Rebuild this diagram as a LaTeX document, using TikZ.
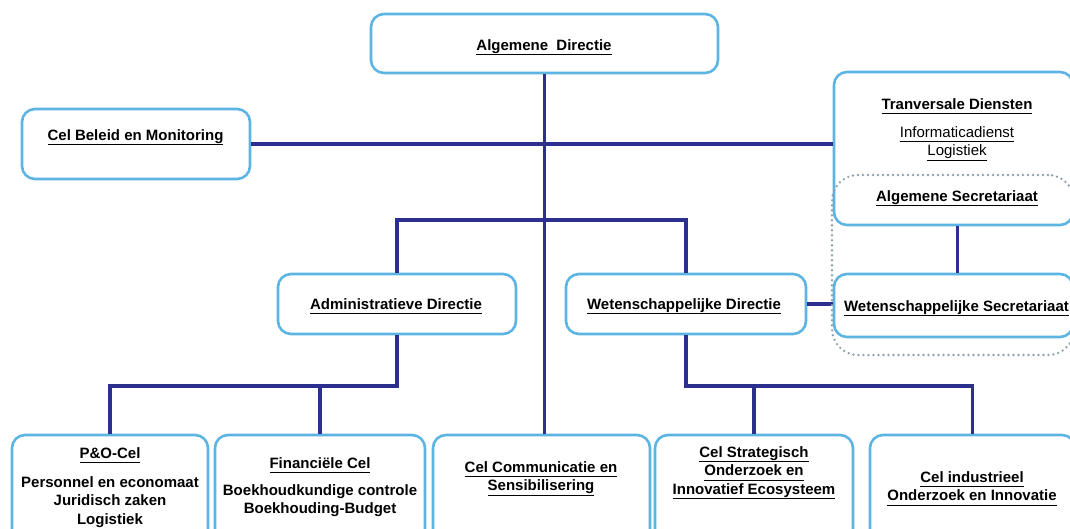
\documentclass[tikz,border=0pt]{standalone}
\usepackage{fontspec}
\setmainfont{Liberation Sans}
\definecolor{connc}{HTML}{2C2F8E}
\definecolor{boxc}{HTML}{5CB4E3}
\definecolor{dotc}{HTML}{8FA2AB}
\newcommand{\ulx}[1]{\underline{#1\vphantom{gjp}}}
\begin{document}
\begin{tikzpicture}[x=1pt,y=-1pt,
  box/.style={draw=boxc, line width=2.6pt, rounded corners=13pt, fill=white, inner sep=0pt},
  conn/.style={draw=connc, line width=3.8pt},
  lbl/.style={font=\fontsize{15}{18.5}\selectfont\bfseries, align=center, inner sep=0pt, text=black, anchor=north},
  sub/.style={font=\fontsize{15}{18.5}\selectfont, align=center, inner sep=0pt, text=black, anchor=north},
  dotbox/.style={draw=dotc, line width=2.6pt, rounded corners=26pt, dash pattern=on 0pt off 5pt, line cap=round, inner sep=0pt}
]
\useasboundingbox (0,0) rectangle (1070,529);
\clip (0,0) rectangle (1070,529);

% boxes
\node[box, minimum width=347pt, minimum height=59pt] (ad) at (544.5,43.5) {};
\node[box, minimum width=228pt, minimum height=70pt] (beleid) at (136,144) {};
\node[box, minimum width=239pt, minimum height=153pt] (trans) at (953.5,148.5) {};
\node[box, minimum width=239pt, minimum height=63pt] (wsec) at (953.5,305.5) {};
\node[box, minimum width=238pt, minimum height=60pt] (admin) at (397,304) {};
\node[box, minimum width=240pt, minimum height=60pt] (wdir) at (686,304) {};
\node[box, minimum width=196pt, minimum height=110pt] (po) at (110,490) {};
\node[box, minimum width=210pt, minimum height=110pt] (fin) at (320,490) {};
\node[box, minimum width=217pt, minimum height=110pt] (com) at (541.5,490) {};
\node[box, minimum width=198pt, minimum height=110pt] (strat) at (754,490) {};
\node[box, minimum width=205pt, minimum height=110pt] (ind) at (972.5,490) {};

% connectors
\draw[conn] (ad.south) -- (ad.south |- com.north);
\draw[conn] (beleid.east) -- (beleid.east -| trans.west);
\draw[conn] (admin.north) -- ++(0,-53) -| (wdir.north);
\draw[conn] (admin.south) -- ++(0,51) coordinate (aj) -| (po.north);
\draw[conn] (aj) -| (fin.north);
\draw[conn] (wdir.south) -- ++(0,51) coordinate (wj) -| (ind.north);
\draw[conn] (wj) -| (strat.north);
\draw[conn] (wdir.east) -- (wdir.east -| wsec.west);
\draw[conn] ([xshift=4pt]trans.south) -- ([xshift=4pt]wsec.north);

% dotted group
\node[dotbox, minimum width=242pt, minimum height=180pt] (grp) at (953,265) {};

% labels
\node[lbl] (tad) at (544,39) {\ulx{Algemene\ \ Directie}};
\node[lbl] (tbeleid) at (135.5,129) {\ulx{Cel Beleid en Monitoring}};
\node[lbl] (ttrans) at (957,98) {\ulx{Tranversale Diensten}};
\node[sub] (ttranssub) at (957,126) {\ulx{Informaticadienst}\\\ulx{Logistiek}};
\node[lbl] (talgsec) at (957,190) {\ulx{Algemene Secretariaat}};
\node[lbl] (twsec) at (956.5,300) {\ulx{Wetenschappelijke Secretariaat}};
\node[lbl] (tadmin) at (396,298) {\ulx{Administratieve Directie}};
\node[lbl] (twdir) at (684,298) {\ulx{Wetenschappelijke Directie}};
\node[lbl] (tpo) at (110,447) {\ulx{P\&O-Cel}};
\node[lbl] (tposub) at (110,476) {Personnel en economaat\\Juridisch zaken\\Logistiek};
\node[lbl] (tfin) at (320,457) {\ulx{Financiële Cel}};
\node[lbl] (tfinsub) at (320,484) {Boekhoudkundige controle\\Boekhouding-Budget};
\node[lbl] (tcom) at (541,461) {\ulx{Cel Communicatie en}\\\ulx{Sensibilisering}};
\node[lbl] (tstrat) at (754,446) {\ulx{Cel Strategisch}\\\ulx{Onderzoek en}\\\ulx{Innovatief Ecosysteem}};
\node[lbl] (tind) at (972,471) {\ulx{Cel industrieel}\\\ulx{Onderzoek en Innovatie}};
\end{tikzpicture}
\end{document}
